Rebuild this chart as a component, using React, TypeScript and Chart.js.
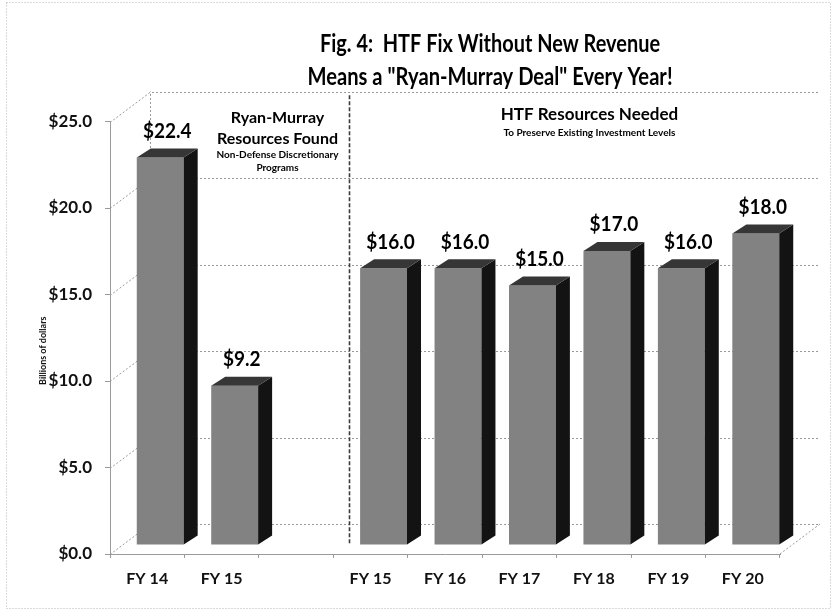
import React, { useEffect, useRef } from "react";
import { Chart, registerables } from "chart.js";

Chart.register(...registerables);

// ---------- data ----------
const categories = ["FY 14", "FY 15", "", "FY 15", "FY 16", "FY 17", "FY 18", "FY 19", "FY 20"];
const values: (number | null)[] = [22.4, 9.2, null, 16.0, 16.0, 15.0, 17.0, 16.0, 18.0];
const yTicks = [0, 5, 10, 15, 20, 25];
const titleLines = ["Fig. 4:  HTF Fix Without New Revenue", 'Means a "Ryan-Murray Deal" Every Year!'];
const leftNoteLines = ["Ryan-Murray", "Resources Found", "Non-Defense Discretionary", "Programs"];
const rightNoteLines = ["HTF Resources Needed", "To Preserve Existing Investment Levels"];
const yAxisTitle = "Billions of dollars";

// ---------- style ----------
const FONT = "Lato, 'Open Sans', sans-serif";
const FRONT = "#828282";
const TOP = "#363636";
const SIDE = "#131313";
const GRID = "#9a9a9a";
const BAR_DX = 13; // front plane -> bar plane
const BAR_DY = -9;
const WALL_DX = 40; // front plane -> back wall
const WALL_DY = -30;
const SIDE_DX = 14; // bar depth
const SIDE_DY = -9;

function squeezedText(ctx: CanvasRenderingContext2D, text: string, cx: number, cy: number, sx: number) {
  ctx.save();
  ctx.translate(cx, cy);
  ctx.scale(sx, 1);
  ctx.fillText(text, 0, 0);
  ctx.restore();
}

const threeD = {
  id: "threeD",
  beforeDraw(chart: any) {
    const ctx = chart.ctx;
    ctx.save();
    ctx.fillStyle = "#ffffff";
    ctx.fillRect(0, 0, chart.width, chart.height);
    ctx.restore();
  },
  beforeDatasetsDraw(chart: any) {
    const ctx = chart.ctx;
    const { left, right, bottom } = chart.chartArea;
    const y = chart.scales.y;
    const x = chart.scales.x;
    ctx.save();
    ctx.strokeStyle = GRID;
    ctx.lineWidth = 1;
    ctx.setLineDash([2, 2]);
    for (const v of yTicks) {
      const py = Math.round(y.getPixelForValue(v)) + 0.5;
      ctx.beginPath();
      ctx.moveTo(left, py);
      ctx.lineTo(left + WALL_DX, py + WALL_DY);
      ctx.lineTo(right + WALL_DX, py + WALL_DY);
      ctx.stroke();
    }
    ctx.beginPath();
    ctx.moveTo(left + WALL_DX + 0.5, y.getPixelForValue(0) + WALL_DY);
    ctx.lineTo(left + WALL_DX + 0.5, y.getPixelForValue(25) + WALL_DY);
    ctx.stroke();
    ctx.beginPath();
    ctx.moveTo(right, bottom);
    ctx.lineTo(right + WALL_DX, bottom + WALL_DY);
    ctx.stroke();
    // separator between the two groups
    const sx = Math.round(x.getPixelForValue(2.5) + BAR_DX + 3) + 0.5;
    ctx.strokeStyle = "#3a3a3a";
    ctx.lineWidth = 1.6;
    ctx.setLineDash([4, 2]);
    ctx.beginPath();
    ctx.moveTo(sx, y.getPixelForValue(26) + BAR_DY);
    ctx.lineTo(sx, y.getPixelForValue(0) + BAR_DY);
    ctx.stroke();
    ctx.restore();
    ctx.save();
    ctx.translate(BAR_DX, BAR_DY);
  },
  afterDatasetsDraw(chart: any) {
    const ctx = chart.ctx;
    ctx.restore();
    const meta = chart.getDatasetMeta(0);
    ctx.save();
    meta.data.forEach((el: any, i: number) => {
      if (values[i] == null) return;
      const xl = el.x - el.width / 2 + BAR_DX;
      const xr = el.x + el.width / 2 + BAR_DX;
      const yt = el.y + BAR_DY;
      const yb = el.base + BAR_DY;
      ctx.fillStyle = SIDE;
      ctx.beginPath();
      ctx.moveTo(xr, yt);
      ctx.lineTo(xr + SIDE_DX, yt + SIDE_DY);
      ctx.lineTo(xr + SIDE_DX, yb + SIDE_DY);
      ctx.lineTo(xr, yb);
      ctx.closePath();
      ctx.fill();
      ctx.fillStyle = TOP;
      ctx.beginPath();
      ctx.moveTo(xl, yt);
      ctx.lineTo(xl + SIDE_DX, yt + SIDE_DY);
      ctx.lineTo(xr + SIDE_DX, yt + SIDE_DY);
      ctx.lineTo(xr, yt);
      ctx.closePath();
      ctx.fill();
      ctx.fillStyle = "#000";
      ctx.font = `bold 20px ${FONT}`;
      ctx.textAlign = "center";
      ctx.textBaseline = "middle";
      squeezedText(ctx, "$" + (values[i] as number).toFixed(1), (xl + xr + SIDE_DX) / 2, yt - 26, 0.95);
    });
    ctx.restore();
  },
  afterDraw(chart: any) {
    const ctx = chart.ctx;
    const x = chart.scales.x;
    const y = chart.scales.y;
    ctx.save();
    ctx.fillStyle = "#000";
    ctx.textAlign = "center";
    ctx.textBaseline = "middle";
    // title
    ctx.font = `bold 24px ${FONT}`;
    squeezedText(ctx, titleLines[0], 490, 44, 0.83);
    squeezedText(ctx, titleLines[1], 490, 77, 0.84);
    // left group note
    const lx = x.getPixelForValue(1.75);
    ctx.font = `bold 16px ${FONT}`;
    ctx.fillText(leftNoteLines[0], lx, y.getPixelForValue(25.2));
    ctx.fillText(leftNoteLines[1], lx, y.getPixelForValue(24.0));
    ctx.font = `bold 10px ${FONT}`;
    ctx.fillText(leftNoteLines[2], lx, y.getPixelForValue(23.05));
    ctx.fillText(leftNoteLines[3], lx, y.getPixelForValue(22.3));
    // right group note
    const rx = x.getPixelForValue(5.94);
    ctx.font = `bold 17px ${FONT}`;
    ctx.fillText(rightNoteLines[0], rx, y.getPixelForValue(25.4));
    ctx.font = `bold 10px ${FONT}`;
    ctx.fillText(rightNoteLines[1], rx, y.getPixelForValue(24.35));
    // y axis title
    ctx.save();
    ctx.translate(43, (y.top + y.bottom) / 2 + 13);
    ctx.rotate(-Math.PI / 2);
    ctx.font = `bold 9px ${FONT}`;
    ctx.fillStyle = "#111";
    ctx.fillText(yAxisTitle, 0, 0);
    ctx.restore();
    // outer frame
    ctx.strokeStyle = "#b5b5b5";
    ctx.lineWidth = 1;
    ctx.setLineDash([1, 2]);
    ctx.strokeRect(6.5, 2.5, 824, 606);
    ctx.restore();
  },
};

export default function App() {
  const ref = useRef<HTMLCanvasElement>(null);
  useEffect(() => {
    const canvas = ref.current!;
    const chart = new Chart(canvas, {
      type: "bar",
      data: {
        labels: categories,
        datasets: [
          {
            data: values,
            backgroundColor: FRONT,
            borderWidth: 0,
            barPercentage: 0.63,
            categoryPercentage: 1,
          },
        ],
      },
      options: {
        responsive: false,
        animation: false,
        events: [],
        layout: { padding: { left: 0, right: 53, top: 121.5, bottom: 0 } },
        plugins: {
          legend: { display: false },
          tooltip: { enabled: false },
          title: { display: false },
        },
        scales: {
          x: {
            grid: { display: true, drawOnChartArea: false, drawTicks: true, tickLength: 4, color: GRID, offset: true },
            border: { display: true, color: GRID, dash: [2, 2] },
            ticks: { color: "#111", font: { family: FONT, size: 16, weight: "bold" }, padding: 11, maxRotation: 0, autoSkip: false },
            afterFit: (s: any) => {
              s.height = 57;
            },
          },
          y: {
            min: 0,
            max: 25,
            afterBuildTicks: (s: any) => {
              s.ticks = yTicks.map((v) => ({ value: v }));
            },
            grid: { display: true, drawOnChartArea: false, drawTicks: true, tickLength: 5, color: GRID },
            border: { display: true, color: GRID, dash: [2, 2] },
            ticks: {
              color: "#111",
              font: { family: FONT, size: 17, weight: "bold" },
              padding: 13,
              callback: (v: any) => "$" + Number(v).toFixed(1),
            },
            afterFit: (s: any) => {
              s.width = 110;
            },
          },
        },
      },
      plugins: [threeD],
    });
    return () => chart.destroy();
  }, []);
  return (
    <div style={{ position: "fixed", left: 0, top: 0 }}>
      <canvas ref={ref} width={833} height={611} style={{ display: "block", width: 833, height: 611 }} />
    </div>
  );
}
